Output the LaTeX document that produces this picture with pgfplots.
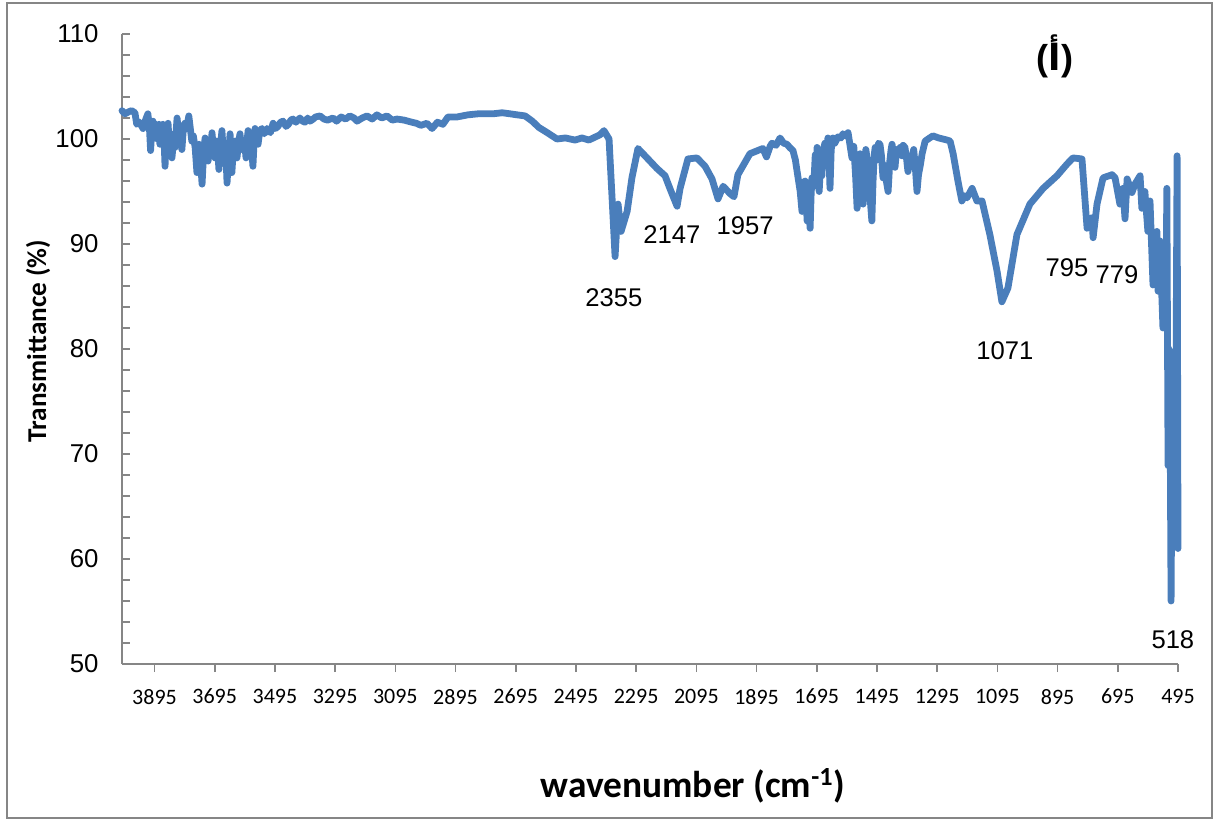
\documentclass[border=0pt]{standalone}
\usepackage{pgfplots}
\pgfplotsset{compat=1.18}
\usepackage{fontspec}
\setmainfont{Liberation Sans}
\newfontfamily\calibri{Carlito}
\newfontfamily\arabicfont[Script=Arabic]{DejaVu Sans}
\definecolor{ir}{RGB}{74,126,187}
\definecolor{axgray}{RGB}{134,134,134}
\begin{document}
\begin{tikzpicture}
\begin{axis}[
  at={(0,0)}, anchor=south west,
  scale only axis, width=528pt, height=315pt,
  xmin=495, xmax=4003, x dir=reverse,
  ymin=50, ymax=110,
  xtick={495,695,...,3895},
  ytick={50,60,...,110},
  minor y tick num=4,
  axis lines=left,
  axis line style={-, draw=axgray, line width=0.8pt},
  xtick align=outside, ytick align=inside,
  major tick length=4pt, minor tick length=4pt,
  every tick/.style={draw=axgray, line width=0.8pt},
  xticklabel style={font=\calibri\fontsize{11}{13}\selectfont, yshift=-5pt},
  yticklabel style={font=\fontsize{12.9}{15}\selectfont, xshift=-8.2pt},
  /pgf/number format/assume math mode=true,
  /pgf/number format/1000 sep={},
  clip=false,
]
\addplot[color=ir, line width=3.4pt, line join=round, line cap=round] coordinates {
(4003,102.7) (3993,102.4) (3980,102.6) (3971,102.7) (3960,102.5) (3954,101.4)
(3945,101.6) (3933,101.0) (3925,101.8) (3917,102.4) (3912,101.2) (3908,98.9)
(3904,100.8) (3900,101.7) (3895,100.2) (3890,101.4) (3885,100.0) (3880,101.4)
(3877,99.5) (3872,100.9) (3867,101.4) (3863,99.8) (3860,97.4) (3856,100.2)
(3850,101.5) (3846,99.6) (3842,100.5) (3837,98.2) (3832,99.8) (3827,99.2)
(3823,100.8) (3820,102.0) (3815,100.5) (3810,101.3) (3804,99.0) (3800,100.6)
(3794,101.5) (3788,101.0) (3781,102.2) (3776,101.0) (3771,99.8) (3766,100.3)
(3760,99.2) (3754,96.8) (3750,98.8) (3747,99.5) (3742,98.0) (3737,95.7)
(3732,98.6) (3727,100.1) (3722,98.5) (3717,97.9) (3712,99.6) (3708,98.6)
(3704,100.6) (3699,99.0) (3694,98.2) (3688,99.8) (3684,98.5) (3681,97.1)
(3676,99.2) (3671,100.8) (3667,99.0) (3664,98.2) (3659,99.5) (3654,95.8)
(3649,98.3) (3644,100.5) (3640,98.6) (3638,96.8) (3633,99.0) (3628,99.8)
(3624,98.9) (3621,98.2) (3616,99.6) (3611,100.5) (3606,99.0) (3601,99.5)
(3596,99.9) (3591,98.2) (3588,99.7) (3584,100.8) (3578,99.8) (3572,99.0)
(3568,97.4) (3564,99.8) (3561,101.0) (3556,100.0) (3551,99.5) (3545,100.8)
(3538,101.0) (3530,100.5) (3521,101.0) (3510,100.6) (3501,101.5) (3493,101.0)
(3485,101.2) (3476,101.6) (3468,101.7) (3458,101.2) (3450,101.4) (3442,101.8)
(3435,101.9) (3425,101.6) (3412,102.0) (3403,101.7) (3395,101.6) (3386,102.0)
(3378,101.7) (3368,101.9) (3360,102.1) (3345,102.2) (3332,101.9) (3320,101.8)
(3302,102.0) (3290,101.7) (3275,102.1) (3260,101.9) (3246,102.2) (3232,102.0)
(3222,101.7) (3205,102.0) (3189,102.2) (3172,101.9) (3156,102.3) (3140,102.0)
(3123,102.2) (3105,101.8) (3089,101.9) (3066,101.8) (3040,101.6) (3025,101.5)
(3010,101.3) (2990,101.5) (2973,101.0) (2955,101.6) (2937,101.4) (2920,102.1)
(2890,102.1) (2854,102.3) (2820,102.4) (2771,102.4) (2740,102.5) (2714,102.4)
(2690,102.3) (2664,102.2) (2640,101.7) (2618,101.1) (2590,100.6) (2558,100.0)
(2530,100.1) (2498,99.9) (2475,100.1) (2452,99.9) (2430,100.2) (2415,100.4)
(2402,100.8) (2385,100.0) (2365,88.8) (2355,93.8) (2345,91.2) (2325,93.1)
(2309,96.3) (2289,99.1) (2259,98.2) (2226,97.2) (2199,96.5) (2183,95.3)
(2159,93.6) (2149,95.3) (2123,98.1) (2093,98.2) (2066,97.4) (2043,96.2)
(2023,94.3) (2006,95.5) (1983,94.8) (1970,94.5) (1957,96.6) (1917,98.6)
(1874,99.1) (1862,98.3) (1850,99.3) (1844,99.6) (1830,99.4) (1817,100.1)
(1805,99.6) (1794,99.5) (1785,99.2) (1774,98.9) (1766,98.0) (1757,96.3)
(1750,95.0) (1744,93.1) (1739,95.8) (1734,96.0) (1730,94.0) (1727,92.2)
(1722,93.5) (1717,91.5) (1714,94.5) (1711,96.3) (1705,95.5) (1700,98.5)
(1697,96.0) (1694,99.2) (1690,97.0) (1687,95.0) (1682,97.8) (1678,96.5)
(1674,98.9) (1668,99.6) (1662,97.5) (1658,100.1) (1654,98.0) (1651,95.3)
(1647,99.0) (1641,100.1) (1635,99.6) (1625,100.2) (1615,100.1) (1608,100.5)
(1600,100.3) (1591,100.6) (1585,99.5) (1578,98.2) (1572,99.3) (1566,96.5)
(1561,93.4) (1556,96.0) (1551,98.6) (1546,97.0) (1541,93.8) (1536,96.5)
(1532,99.0) (1528,98.2) (1523,96.0) (1518,94.5) (1512,92.2) (1508,96.0)
(1504,98.5) (1501,99.2) (1496,98.0) (1490,99.6) (1485,99.5) (1480,98.4)
(1475,96.3) (1470,97.5) (1465,96.2) (1458,95.0) (1452,98.0) (1448,99.0)
(1445,99.5) (1440,98.6) (1435,97.3) (1430,99.0) (1424,98.5) (1418,99.2)
(1412,98.4) (1408,99.4) (1402,99.2) (1397,98.2) (1392,96.9) (1386,97.8)
(1379,98.2) (1373,99.0) (1368,97.5) (1362,95.0) (1357,96.6) (1351,97.5)
(1345,98.6) (1340,99.2) (1335,99.8) (1320,100.1) (1309,100.3) (1290,100.1)
(1276,100.0) (1262,99.9) (1252,99.8) (1242,98.6) (1226,96.0) (1213,94.1)
(1204,94.6) (1196,94.4) (1179,95.3) (1163,94.1) (1146,94.1) (1120,90.9)
(1096,87.4) (1080,84.5) (1060,85.8) (1030,90.9) (987,93.8) (943,95.3)
(897,96.5) (864,97.6) (844,98.2) (814,98.1) (797,91.5) (781,92.5)
(777,90.6) (764,93.8) (744,96.3) (714,96.6) (704,96.3) (688,93.8)
(678,95.3) (671,92.4) (664,96.2) (648,94.9) (638,95.7) (621,96.5)
(615,93.4) (605,95.0) (595,91.2) (588,94.1) (578,86.1) (565,91.2)
(561,85.5) (555,90.3) (545,82.0) (542,89.6) (535,85.0) (532,95.3)
(528,68.9) (525,80.0) (522,77.8) (518,56.0) (515,70.0) (512,77.8)
(505,61.4) (502,75.0) (498,98.4) (495,61.0)
};
\node[font=\fontsize{12.8}{15}\selectfont] at (axis cs:2369,84.9) {2355};
\node[font=\fontsize{12.8}{15}\selectfont] at (axis cs:2176,90.9) {2147};
\node[font=\fontsize{12.8}{15}\selectfont] at (axis cs:1933,91.7) {1957};
\node[font=\fontsize{12.8}{15}\selectfont] at (axis cs:1070,79.8) {1071};
\node[font=\fontsize{12.8}{15}\selectfont] at (axis cs:864,87.7) {795};
\node[font=\fontsize{12.8}{15}\selectfont] at (axis cs:698,87.1) {779};
\node[font=\fontsize{12.8}{15}\selectfont] at (axis cs:512,52.3) {518};
\end{axis}
\node[font=\bfseries\fontsize{18}{21}\selectfont] at (466.5pt,304pt) {({\arabicfont\bfseries أ})};
\node[font=\calibri\bfseries\fontsize{18.7}{22}\selectfont] at (285.5pt,-61pt) {wavenumber (cm\textsuperscript{-1})};
\node[rotate=90, font=\calibri\bfseries\fontsize{13.6}{16}\selectfont] at (-42pt,161.5pt) {Transmittance (\%)};
\draw[axgray, line width=0.8pt] (-57.5pt,330.5pt) rectangle (545pt,-77pt);
\pgfresetboundingbox
\path (-61pt,-78.5pt) rectangle (546pt,332pt);
\end{tikzpicture}
\end{document}
